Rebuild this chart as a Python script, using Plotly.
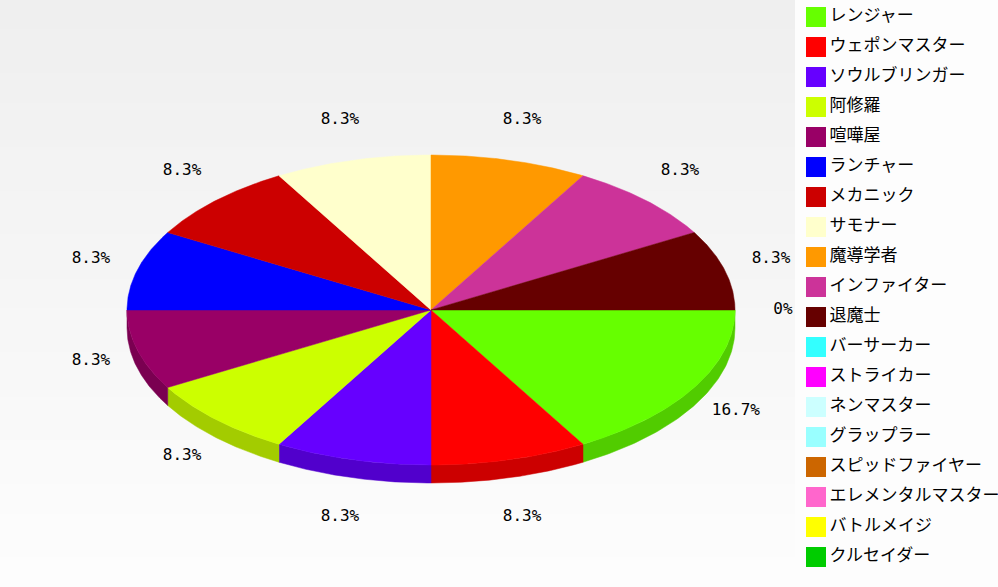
import numpy as np
import plotly.graph_objects as go

# ---------------- data ----------------
categories = ["レンジャー", "ウェポンマスター", "ソウルブリンガー", "阿修羅", "喧嘩屋",
              "ランチャー", "メカニック", "サモナー", "魔導学者", "インファイター",
              "退魔士", "バーサーカー", "ストライカー", "ネンマスター", "グラップラー",
              "スピッドファイヤー", "エレメンタルマスター", "バトルメイジ", "クルセイダー"]
values = [2, 1, 1, 1, 1, 1, 1, 1, 1, 1, 1, 0, 0, 0, 0, 0, 0, 0, 0]
colors = ["#66ff00", "#ff0000", "#6600ff", "#ccff00", "#990066", "#0000ff", "#cc0000",
          "#ffffcc", "#ff9900", "#cc3399", "#660000", "#33ffff", "#ff00ff", "#ccffff",
          "#99ffff", "#cc6600", "#ff66cc", "#ffff00", "#00cc00"]

# ---------------- geometry / style ----------------
W, H = 998, 587
CX, CY, RX, RY, DEPTH = 431, 310, 304, 155, 18
LRX, LRY = 352, 197
LEG_X, LEG_Y0, LEG_DY = 816, 17, 30


def shade(hx, f):
    hx = hx.lstrip("#")
    r, g, b = (int(hx[i:i + 2], 16) for i in (0, 2, 4))
    return "rgb(%d,%d,%d)" % (r * f, g * f, b * f)


def ell(theta_deg, dy=0.0):
    t = np.radians(theta_deg)
    return CX + RX * np.cos(t), CY - RY * np.sin(t) + dy


def pct(v, tot):
    s = "%.1f" % (v / tot * 100)
    s = s.rstrip("0").rstrip(".")
    return s + "%"


total = float(sum(values))
fig = go.Figure()

# slice angle ranges (start at 3 o'clock, clockwise)
ranges = []
cum = 0.0
for v in values:
    t0 = -cum / total * 360.0
    t1 = -(cum + v) / total * 360.0
    ranges.append((t0, t1))
    cum += v

# rims (3D side) for lower half
for i, v in enumerate(values):
    if v <= 0:
        continue
    t0, t1 = ranges[i]
    hi = min(t0, 0.0)
    lo = max(t1, -180.0)
    if hi - lo <= 0:
        continue
    arc = np.linspace(hi, lo, 80)
    xt, yt = ell(arc)
    xb, yb = ell(arc[::-1], DEPTH)
    xs = np.concatenate([xt, xb, xt[:1]])
    ys = np.concatenate([yt, yb, yt[:1]])
    c = shade(colors[i], 0.8)
    fig.add_trace(go.Scatter(x=xs, y=ys, mode="lines", fill="toself", fillcolor=c,
                             line=dict(color=c, width=0.5), hoverinfo="skip",
                             showlegend=False))

# top faces
for i, v in enumerate(values):
    if v <= 0:
        continue
    t0, t1 = ranges[i]
    arc = np.linspace(t0, t1, 120)
    xa, ya = ell(arc)
    xs = np.concatenate([[CX], xa, [CX]])
    ys = np.concatenate([[CY], ya, [CY]])
    fig.add_trace(go.Scatter(x=xs, y=ys, mode="lines", fill="toself", fillcolor=colors[i],
                             line=dict(color=colors[i], width=0.5),
                             name=categories[i], text=pct(values[i], total),
                             hoverinfo="name+text", showlegend=False))

# percentage labels (coincident identical labels drawn once)
lx, ly, lt = [], [], []
seen = set()
for i, v in enumerate(values):
    t0, t1 = ranges[i]
    m = np.radians((t0 + t1) / 2.0)
    s = np.sin(m)
    x = CX + LRX * np.cos(m)
    y = CY - LRY * s + DEPTH * max(0.0, -s) ** 3
    key = (round(x, 1), round(y, 1), pct(v, total))
    if key in seen:
        continue
    seen.add(key)
    lx.append(x)
    ly.append(y)
    lt.append(pct(v, total))
fig.add_trace(go.Scatter(x=lx, y=ly, mode="text", text=lt, textposition="middle center",
                         textfont=dict(family="DejaVu Sans Mono", size=16, color="#000000"),
                         hoverinfo="skip", showlegend=False))

# legend (squares + names)
idx = np.arange(len(categories))
fig.add_trace(go.Scatter(x=[LEG_X] * len(categories), y=LEG_Y0 + LEG_DY * idx,
                         mode="markers+text", text=categories, textposition="middle right",
                         marker=dict(symbol="square", size=20, color=colors,
                                     line=dict(width=0)),
                         textfont=dict(family="Noto Sans CJK JP", size=17, color="#000000"),
                         hoverinfo="text", showlegend=False))

# background: gradient plot area + white legend area
shapes = []
n = 40
for k in range(n):
    f = k / (n - 1)
    g = int(round(239 + (253 - 239) * f))
    shapes.append(dict(type="rect", xref="x", yref="y", x0=0, x1=795,
                       y0=H * k / n, y1=H * (k + 1) / n + 1, layer="below",
                       line=dict(width=0), fillcolor="rgb(%d,%d,%d)" % (g, g, g)))
shapes.append(dict(type="rect", xref="x", yref="y", x0=795, x1=W, y0=0, y1=H,
                   layer="below", line=dict(width=0), fillcolor="#fdfdfd"))

fig.update_layout(
    width=W, height=H,
    margin=dict(l=0, r=0, t=0, b=0, pad=0),
    paper_bgcolor="#ffffff", plot_bgcolor="#ffffff",
    shapes=shapes,
    xaxis=dict(range=[0, W], visible=False, fixedrange=True),
    yaxis=dict(range=[H, 0], visible=False, fixedrange=True),
    showlegend=False,
)

fig.write_html("out.html", config={"displayModeBar": False},
               post_script="document.body.style.margin='0';document.body.style.overflow='hidden';")
